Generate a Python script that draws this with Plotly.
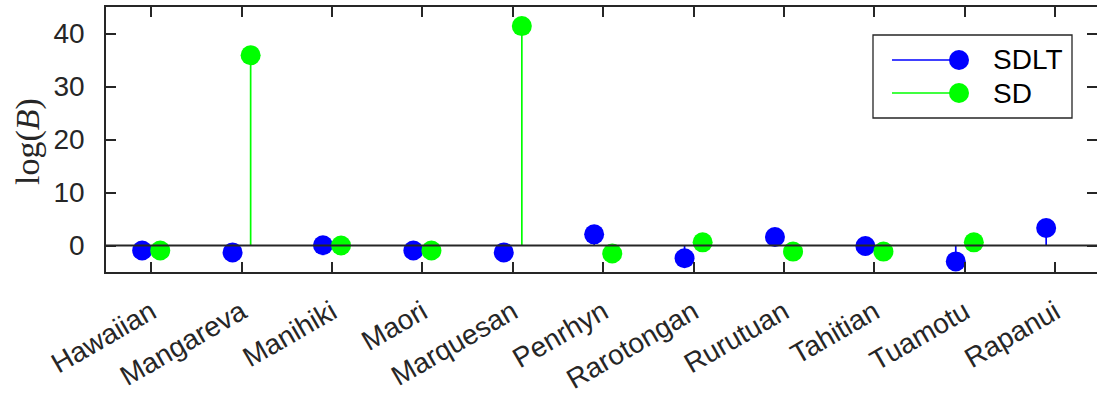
import plotly.graph_objects as go

# Languages and Bayes-factor values (log scale) for the two models
languages = ["Hawaiian", "Mangareva", "Manihiki", "Maori", "Marquesan", "Penrhyn",
             "Rarotongan", "Rurutuan", "Tahitian", "Tuamotu", "Rapanui"]
sdlt = [-0.95, -1.3, 0.05, -0.95, -1.3, 2.1, -2.4, 1.6, -0.1, -3.0, 3.3]
sd = [-0.95, 35.9, 0.0, -0.95, 41.4, -1.5, 0.6, -1.15, -1.15, 0.6, None]
series_names = ["SDLT", "SD"]
series_colors = ["#0000FF", "#00FF00"]
y_ticks = [0, 10, 20, 30, 40]

W, H = 1097, 398
ML, MR, MT, MB = 106, 0, 7, 126
PW, PH = W - ML - MR, H - MT - MB
AX = "#262626"
FONT = "Liberation Sans, Arial, Helvetica, sans-serif"
FS = 28
STEP = 90.4  # pixels per category


def px_x(p):
    return (p - ML) / PW


def px_y(p):
    return (H - MB - p) / PH


def stem_errors(vals):
    up = [None if v is None else max(-v, 0) for v in vals]
    down = [None if v is None else max(v, 0) for v in vals]
    return up, down


fig = go.Figure()
positions = list(range(1, len(languages) + 1))
for vals, name, color, shift in [(sdlt, series_names[0], series_colors[0], -0.1),
                                 (sd, series_names[1], series_colors[1], 0.1)]:
    up, down = stem_errors(vals)
    fig.add_trace(go.Scatter(
        x=[p + shift for p in positions], y=vals, mode="markers", name=name,
        marker=dict(size=20, color=color, line=dict(width=0)),
        error_y=dict(type="data", symmetric=False, array=up, arrayminus=down,
                     width=0, thickness=1.7, color=color),
        showlegend=False, cliponaxis=False,
    ))

# stem baseline
fig.add_shape(type="line", xref="paper", yref="y", x0=0, x1=1, y0=0, y1=0,
              line=dict(color=AX, width=1.8), layer="above")

# legend box
lx0, lx1, ly0, ly1 = 873, 1072, 35, 118
fig.add_shape(type="rect", xref="paper", yref="paper",
              x0=px_x(lx0), x1=px_x(lx1), y0=px_y(ly1), y1=px_y(ly0),
              line=dict(color=AX, width=1.3), fillcolor="white", layer="above")
for row_y, name, color in zip([60, 93], series_names, series_colors):
    fig.add_shape(type="line", xref="paper", yref="paper",
                  x0=px_x(892), x1=px_x(959), y0=px_y(row_y), y1=px_y(row_y),
                  line=dict(color=color, width=1.7), layer="above")
    r = 10
    fig.add_shape(type="circle", xref="paper", yref="paper",
                  x0=px_x(959 - r), x1=px_x(959 + r), y0=px_y(row_y + r), y1=px_y(row_y - r),
                  line=dict(width=0), fillcolor=color, layer="above")
    fig.add_annotation(xref="paper", yref="paper", x=px_x(991), y=px_y(row_y),
                       text=name, showarrow=False, xanchor="left", yanchor="middle",
                       font=dict(family=FONT, size=FS, color="#000000"))

# y-axis title
fig.add_annotation(xref="paper", yref="paper", x=px_x(28), y=px_y(142),
                   text="log(<i>B</i>)", textangle=-90, showarrow=False,
                   xanchor="center", yanchor="middle",
                   font=dict(family="Liberation Serif, DejaVu Serif, serif", size=34, color=AX))

fig.update_layout(
    width=W, height=H,
    margin=dict(l=ML, r=MR, t=MT, b=MB, pad=0, autoexpand=False),
    paper_bgcolor="white", plot_bgcolor="white",
    font=dict(family=FONT, size=FS, color=AX),
    showlegend=False,
)
fig.update_xaxes(
    range=[0.5, 0.5 + PW / STEP], tickvals=positions, ticktext=languages,
    tickangle=-30, ticks="inside", ticklen=10, tickwidth=1.6, tickcolor=AX,
    showline=True, linecolor=AX, linewidth=1.6, mirror="allticks",
    showgrid=False, zeroline=False, ticklabelstandoff=11, automargin=False,
    tickfont=dict(family=FONT, size=FS, color=AX),
)
fig.update_yaxes(
    range=[-5, 45], tickvals=y_ticks, ticks="inside", ticklen=10, tickwidth=1.6,
    tickcolor=AX, showline=True, linecolor=AX, linewidth=1.6, mirror="allticks",
    showgrid=False, zeroline=False, ticklabelstandoff=14, automargin=False,
    tickfont=dict(family=FONT, size=FS, color=AX),
)

fig.write_html("out.html")
